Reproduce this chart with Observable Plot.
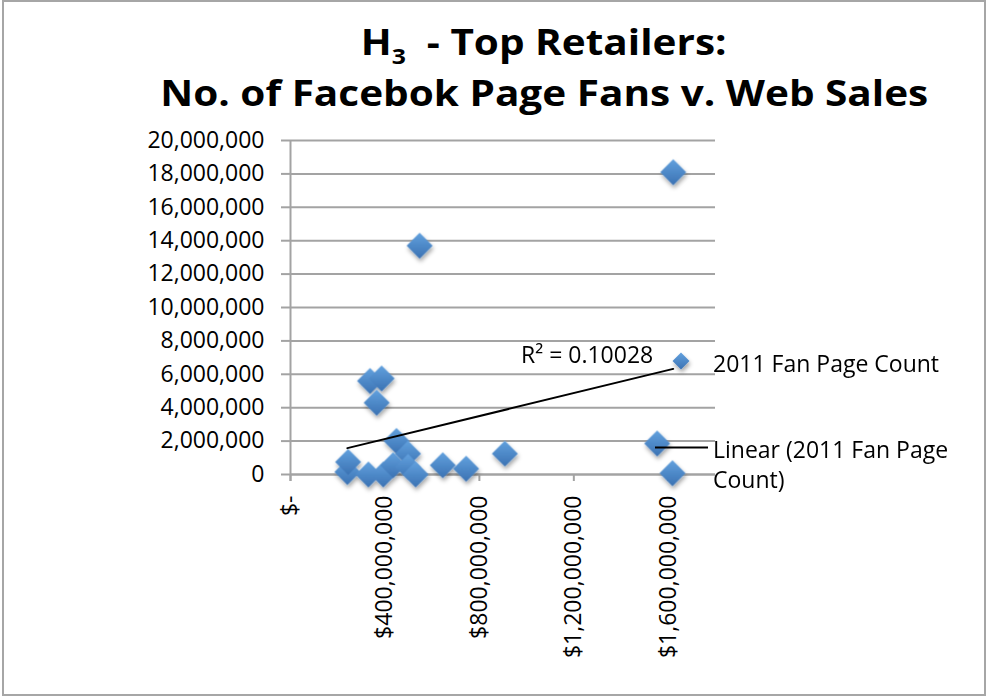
<!DOCTYPE html>
<html><head><meta charset="utf-8">
<script src="https://cdn.jsdelivr.net/npm/d3@7"></script>
<script src="https://cdn.jsdelivr.net/npm/@observablehq/plot@0.6"></script>
<style>
body{margin:0;background:#fff;overflow:hidden;font-family:"Open Sans",sans-serif;}
#wrap{position:relative;width:986px;height:696px;}
#chart{position:absolute;left:0;top:0;}
#frame{position:absolute;left:2px;top:0;width:984px;height:696px;border:2px solid #a6a6a6;box-sizing:border-box;pointer-events:none}
.title{position:absolute;left:0;width:1088px;text-align:center;font-weight:700;font-size:36px;line-height:40px;white-space:pre;color:#000}
.title span.t{display:inline-block;transform-origin:50% 50%}
.title .sub{display:inline-block;font-size:22px;line-height:16px;height:16px;vertical-align:-9px;overflow:visible}
.leg{position:absolute;font-size:23px;line-height:30px;color:#000;white-space:pre}
#legsvg{position:absolute;left:0;top:0;pointer-events:none}
</style></head>
<body>
<div id="wrap">
  <div id="chart"></div>
  <div class="title" style="top:22px"><span class="t" id="t1">H<span class="sub">3</span>  - Top Retailers:</span></div>
  <div class="title" style="top:73px"><span class="t" id="t2">No. of Facebok Page Fans v. Web Sales</span></div>
  <svg id="legsvg" width="986" height="696"></svg>
  <div class="leg" style="left:713px;top:348px">2011 Fan Page Count</div>
  <div class="leg" style="left:713px;top:434px">Linear (2011 Fan Page<br>Count)</div>
  <div id="frame"></div>
</div>
<script>
// Web sales ($) for each retailer
const webSales = [241e6, 244e6, 330e6, 337e6, 365e6, 386e6, 393e6, 435e6, 449e6, 498e6, 498e6, 530e6, 547e6, 645e6, 744e6, 908e6, 1553e6, 1621e6, 1618e6];
// 2011 Facebook fan page counts
const fanCounts = [150000, 750000, 0, 5600000, 4300000, 5750000, 0, 550000, 2000000, 1250000, 450000, 0, 13700000, 550000, 350000, 1250000, 1850000, 18100000, 80000];
const yTicks = [0, 2000000, 4000000, 6000000, 8000000, 10000000, 12000000, 14000000, 16000000, 18000000, 20000000];
const xTicks = [0, 400000000, 800000000, 1200000000, 1600000000];
const xDomain = [0, 1800000000];
const yDomain = [0, 20000000];
const seriesName = "2011 Fan Page Count";
const rSquaredLabel = "R\u00b2 = 0.10028";

const data = webSales.map((s, i) => ({sales: s, fans: fanCounts[i]}));

// least-squares fit, used to anchor the R² label at the end of the trendline
const mx = d3.mean(data, d => d.sales), my = d3.mean(data, d => d.fans);
const slope = d3.sum(data, d => (d.sales - mx) * (d.fans - my)) / d3.sum(data, d => (d.sales - mx) ** 2);
const xEnd = d3.max(data, d => d.sales);
const labelData = [{sales: xEnd, fans: my + slope * (xEnd - mx), text: rSquaredLabel}];

const grey = "#a3a3a3";
const chart = Plot.plot({
  width: 986, height: 696,
  marginLeft: 290, marginRight: 271, marginTop: 140, marginBottom: 222,
  style: {fontFamily: '"Open Sans", sans-serif', fontSize: "23px", color: "#000", background: "transparent"},
  x: {domain: xDomain},
  y: {domain: yDomain},
  marks: [
    Plot.gridY(yTicks, {stroke: grey, strokeOpacity: 1, strokeWidth: 2}),
    Plot.ruleX([0], {stroke: grey, strokeWidth: 2, insetBottom: -7}),
    Plot.axisY(yTicks, {tickSize: 9, tickPadding: 17, stroke: grey, strokeWidth: 2, fill: "#000", tickFormat: d3.format(","), label: null, fontSize: 23}),
    Plot.axisX(xTicks, {tickSize: 7, tickPadding: 14, tickRotate: -90, stroke: grey, strokeWidth: 2, fill: "#000", tickFormat: v => v === 0 ? "$-" : "$" + d3.format(",")(v), label: null, fontSize: 23}),
    Plot.ruleY([0], {stroke: grey, strokeWidth: 2}),
    Plot.dot(data, {x: "sales", y: "fans", symbol: "diamond2", r: 11.7, fill: "url(#diamondFill)", stroke: "none"}),
    Plot.linearRegressionY(data, {x: "sales", y: "fans", stroke: "#000", strokeWidth: 2, ci: 0}),
    Plot.text(labelData, {x: "sales", y: "fans", text: "text", dx: -20, dy: -13, textAnchor: "end", fill: "#000", fontSize: 23})
  ]
});

const defs = d3.select(chart).insert("defs", ":first-child");
const grad = defs.append("linearGradient").attr("id", "diamondFill").attr("x1", 0).attr("y1", 0).attr("x2", 0).attr("y2", 1);
grad.append("stop").attr("offset", 0).attr("stop-color", "#62a1de");
grad.append("stop").attr("offset", 1).attr("stop-color", "#3b72b3");
const filt = defs.append("filter").attr("id", "dshadow").attr("x", "-50%").attr("y", "-50%").attr("width", "200%").attr("height", "200%");
filt.append("feDropShadow").attr("dx", 1).attr("dy", 3).attr("stdDeviation", 2).attr("flood-color", "#000").attr("flood-opacity", 0.35);
const dotG = chart.querySelector('g[aria-label="dot"]');
if (dotG) dotG.setAttribute("filter", "url(#dshadow)");
document.getElementById("chart").appendChild(chart);

// legend symbols
const leg = d3.select("#legsvg");
leg.append("path").attr("d", "M681,352.5L689.5,361L681,369.5L672.5,361Z").attr("fill", "url(#diamondFill)").attr("filter", "url(#dshadow)");
leg.append("line").attr("x1", 655).attr("x2", 708).attr("y1", 447.5).attr("y2", 447.5).attr("stroke", "#000").attr("stroke-width", 2);

// stretch the title horizontally to the reference's wider (Calibri-like) setting
const t2 = document.getElementById("t2"), t1 = document.getElementById("t1");
const k = 768 / t2.getBoundingClientRect().width;
t1.style.transform = `scaleX(${k})`;
t2.style.transform = `scaleX(${k})`;
</script>
</body></html>
